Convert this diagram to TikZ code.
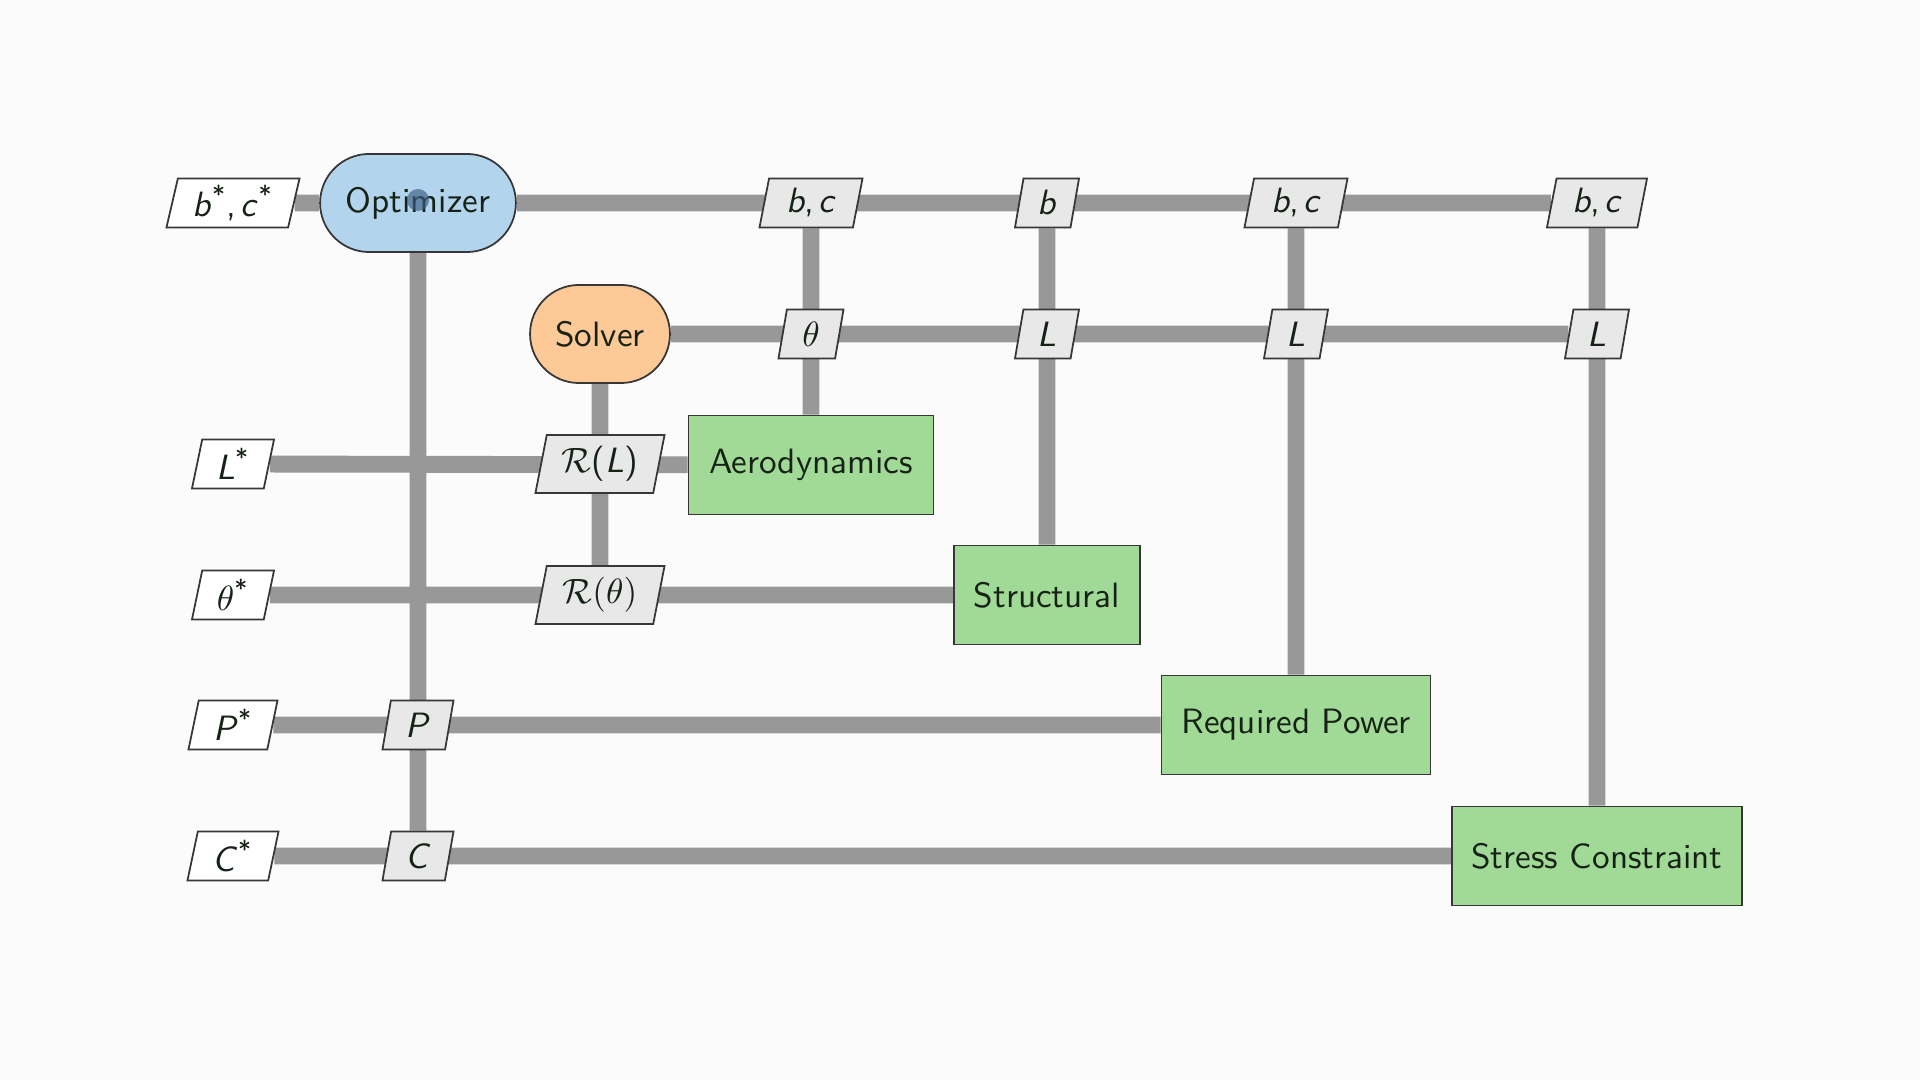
\documentclass[tikz,border=0pt]{standalone}
\usetikzlibrary{shapes.geometric,shapes.misc}
\definecolor{linegray}{RGB}{152,152,152}
\definecolor{bordergray}{RGB}{55,55,55}
\definecolor{greenfill}{RGB}{161,218,150}
\definecolor{bluefill}{RGB}{179,212,237}
\definecolor{orangefill}{RGB}{253,201,150}
\definecolor{datagray}{RGB}{232,232,232}
\definecolor{textc}{RGB}{22,34,22}
\definecolor{bgc}{RGB}{251,251,251}
\definecolor{dotc}{RGB}{60,95,130}
\pgfdeclarelayer{bg}
\pgfdeclarelayer{back}
\pgfsetlayers{bg,back,main}
\tikzset{
  every node/.style={font=\sffamily\fontsize{10}{12}\selectfont, text=textc},
  conn/.style={line width=4.8pt, draw=linegray},
  procbox/.style={rectangle, draw=bordergray, line width=0.5pt, fill=greenfill, minimum height=0.99cm, inner sep=0pt},
  para/.style={trapezium, trapezium left angle=75, trapezium right angle=105, trapezium stretches body, draw=bordergray, line width=0.5pt, minimum height=0.49cm, inner sep=1pt},
  databox/.style={para, fill=datagray},
  inbox/.style={para, fill=white},
  optbox/.style={rounded rectangle, draw=bordergray, line width=0.5pt, fill=bluefill, minimum height=0.98cm, inner xsep=0.23cm},
  solvbox/.style={rounded rectangle, draw=bordergray, line width=0.5pt, fill=orangefill, minimum height=0.98cm, inner xsep=0.235cm},
}
\newcommand{\va}[1]{\textit{#1}}
\newcommand{\bcpair}{\va{b},\hspace{0.12em}\va{c}}
\begin{document}
\begin{tikzpicture}[x=0.01cm, y=-0.01cm]
\begin{pgfonlayer}{bg}
\fill[bgc] (0,0) rectangle (1920,1080);
\end{pgfonlayer}
\useasboundingbox (0,0) rectangle (1920,1080);

% main components
\node[optbox] (opt) at (418,203) {Optimizer};
\node[solvbox] (solver) at (600,334) {Solver};
\node[procbox, minimum width=2.45cm] (aero) at (811,465) {Aerodynamics};
\node[procbox, minimum width=1.86cm] (struct) at (1047,595) {Structural};
\node[procbox, minimum width=2.69cm] (power) at (1296,725) {Required Power};
\node[procbox, minimum width=2.90cm] (stress) at (1597,856) {Stress Constraint};

% inputs
\node[inbox, minimum width=1.33cm] (bcs) at (233,203) {\va{b}\textsuperscript{*},\hspace{0.12em}\va{c}\textsuperscript{*}};
\node[inbox, minimum width=0.82cm] (Ls) at (233,464) {\va{L}\textsuperscript{*}};
\node[inbox, minimum width=0.82cm] (ths) at (233,595) {$\theta$\textsuperscript{*}};
\node[inbox, minimum width=0.89cm] (Ps) at (233,725) {\va{P}\textsuperscript{*}};
\node[inbox, minimum width=0.91cm] (Cs) at (233,856) {\va{C}\textsuperscript{*}};

% data
\node[databox, minimum width=1.03cm] (bc1) at (811,203) {\bcpair};
\node[databox, minimum width=0.64cm] (b2) at (1047,203) {\va{b}};
\node[databox, minimum width=1.03cm] (bc3) at (1296,203) {\bcpair};
\node[databox, minimum width=1.00cm] (bc4) at (1597,203) {\bcpair};
\node[databox, minimum width=0.65cm] (th1) at (811,334) {$\theta$};
\node[databox, minimum width=0.64cm] (L2) at (1047,334) {\va{L}};
\node[databox, minimum width=0.64cm] (L3) at (1296,334) {\va{L}};
\node[databox, minimum width=0.64cm] (L4) at (1597,334) {\va{L}};
\node[databox, minimum width=1.29cm, minimum height=0.58cm] (RL) at (600,464) {$\mathcal{R}$(\va{L})};
\node[databox, minimum width=1.29cm, minimum height=0.58cm] (Rth) at (600,595) {$\mathcal{R}(\theta)$};
\node[databox, minimum width=0.71cm] (P) at (418,725) {\va{P}};
\node[databox, minimum width=0.71cm] (C) at (418,856) {\va{C}};

% dot on optimizer
\node[circle, fill=dotc, fill opacity=0.65, draw=none, minimum size=0.22cm, inner sep=0pt] (dot) at (418,200) {};

\begin{pgfonlayer}{back}
\draw[conn] (bcs) -- (opt);
\draw[conn] (opt) -- (bc4);
\draw[conn] (opt) -- (C);
\draw[conn] (bc1) -- (aero);
\draw[conn] (b2) -- (struct);
\draw[conn] (bc3) -- (power);
\draw[conn] (bc4) -- (stress);
\draw[conn] (solver) -- (L4);
\draw[conn] (solver) -- (Rth);
\draw[conn] (Ls) -- (aero);
\draw[conn] (ths) -- (struct);
\draw[conn] (Ps) -- (power);
\draw[conn] (Cs) -- (stress);
\end{pgfonlayer}
\end{tikzpicture}
\end{document}
